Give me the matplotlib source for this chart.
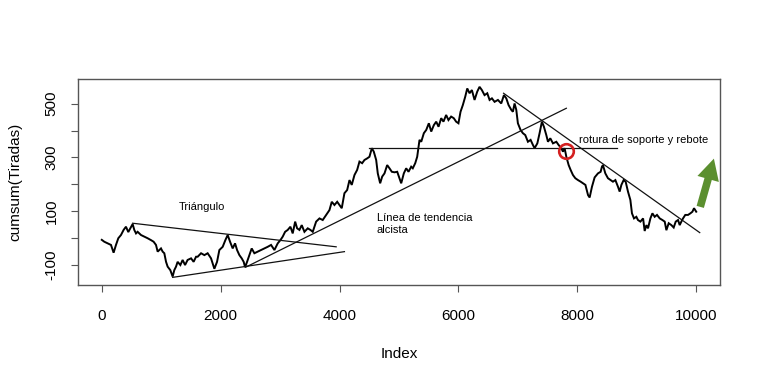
import matplotlib
matplotlib.use("Agg")
import matplotlib.pyplot as plt
from matplotlib.patches import FancyArrowPatch

plt.rcParams['font.family'] = ['Liberation Sans', 'DejaVu Sans']

# Random-walk series (index, cumsum value)
index_pts = [0, 42, 98, 155, 199, 239, 278, 323, 367, 407, 446, 480, 519, 547, 576, 603, 660, 715, 771, 828,
             872, 912, 940, 996, 1024, 1052, 1081, 1108, 1153, 1192, 1220, 1249, 1276, 1322, 1360, 1401, 1444, 1502, 1545, 1586,
             1613, 1670, 1726, 1781, 1838, 1894, 1939, 1978, 2034, 2079, 2118, 2158, 2202, 2242, 2276, 2315, 2354, 2387, 2411, 2444,
             2483, 2522, 2567, 2623, 2680, 2736, 2791, 2848, 2904, 2960, 3005, 3044, 3084, 3128, 3173, 3212, 3253, 3286, 3325, 3364,
             3409, 3465, 3510, 3549, 3606, 3662, 3717, 3774, 3830, 3869, 3914, 3960, 3998, 4037, 4082, 4128, 4167, 4205, 4251, 4296,
             4335, 4380, 4419, 4465, 4503, 4543, 4576, 4616, 4643, 4683, 4717, 4756, 4801, 4840, 4879, 4924, 4970, 5008, 5037, 5081,
             5121, 5160, 5205, 5232, 5273, 5306, 5345, 5374, 5418, 5458, 5502, 5542, 5586, 5626, 5665, 5710, 5748, 5793, 5832, 5877,
             5921, 5961, 6000, 6035, 6074, 6114, 6148, 6187, 6226, 6271, 6316, 6355, 6394, 6439, 6485, 6524, 6563, 6608, 6664, 6720,
             6765, 6805, 6843, 6889, 6916, 6944, 6973, 7000, 7045, 7084, 7124, 7169, 7214, 7253, 7281, 7327, 7365, 7404, 7438, 7478,
             7506, 7545, 7590, 7647, 7685, 7730, 7758, 7786, 7815, 7854, 7887, 7926, 7966, 8011, 8056, 8095, 8136, 8180, 8207, 8246,
             8291, 8347, 8392, 8414, 8431, 8471, 8515, 8561, 8599, 8640, 8684, 8712, 8741, 8779, 8813, 8852, 8892, 8919, 8953, 8993,
             9020, 9061, 9106, 9133, 9162, 9189, 9229, 9263, 9301, 9340, 9386, 9431, 9470, 9498, 9537, 9582, 9621, 9655, 9694, 9722,
             9750, 9778, 9816, 9862, 9902, 9936, 9963, 10000]
cumsum_vals = [-8, -15, -21, -27, -56, -27, -2, 10, 29, 41, 21, 35, 51, 29, 16, 22, 10, 4, -2, -9,
               -15, -27, -52, -40, -52, -58, -90, -108, -121, -145, -121, -108, -90, -102, -83, -102, -83, -77, -90, -71,
               -71, -58, -65, -58, -77, -116, -90, -46, -34, -9, 10, -15, -40, -21, -46, -65, -77, -90, -110, -90,
               -65, -40, -58, -52, -46, -40, -34, -27, -46, -21, -9, 4, 22, 29, 41, 16, 60, 35, 29, 47,
               22, 35, 29, 22, 60, 72, 66, 85, 103, 134, 122, 134, 122, 110, 166, 178, 215, 197, 234, 253,
               284, 278, 290, 296, 302, 334, 321, 290, 240, 203, 228, 240, 271, 259, 246, 244, 246, 222, 203, 240,
               259, 246, 265, 259, 278, 302, 365, 358, 390, 402, 427, 396, 420, 433, 414, 446, 433, 458, 439, 452,
               446, 433, 427, 470, 495, 526, 557, 539, 551, 514, 545, 563, 551, 532, 539, 514, 520, 507, 514, 501,
               532, 520, 495, 477, 470, 501, 477, 427, 402, 390, 383, 358, 365, 346, 334, 352, 390, 433, 414, 383,
               358, 371, 352, 358, 346, 334, 321, 334, 302, 271, 253, 234, 222, 215, 209, 203, 197, 159, 150, 190,
               225, 240, 246, 265, 271, 240, 222, 215, 209, 215, 190, 172, 197, 215, 209, 172, 141, 91, 72, 78,
               66, 60, 72, 25, 47, 35, 72, 91, 78, 85, 72, 66, 60, 28, 54, 47, 38, 60, 66, 47,
               60, 72, 85, 85, 91, 97, 110, 97]

# Hand-drawn annotation lines (x pair, y pair)
tri_upper_x, tri_upper_y = [519, 3943], [54, -34]
tri_lower_x, tri_lower_y = [1192, 4082], [-148, -52]
uptrend_x, uptrend_y = [2421, 7815], [-110, 483]
support_x, support_y = [4500, 8673], [334, 334]
downtrend_x, downtrend_y = [6759, 10059], [539, 19]
circle_xy = (7808, 323)
arrow_from, arrow_to = (10055, 105), (10310, 305)

x_ticks = [0, 2000, 4000, 6000, 8000, 10000]
y_ticks = [-100, 0, 100, 200, 300, 400, 500]
y_tick_labels = ['-100', '', '100', '', '300', '', '500']

fig = plt.figure(figsize=(7.6, 3.84), dpi=100)
ax = fig.add_axes([78 / 760, 1 - 285.3 / 384, 642 / 760, 206.6 / 384])

ax.plot(index_pts, cumsum_vals, color='black', lw=1.4, solid_joinstyle='miter')

for xs, ys in [(tri_upper_x, tri_upper_y), (tri_lower_x, tri_lower_y), (uptrend_x, uptrend_y),
               (support_x, support_y), (downtrend_x, downtrend_y)]:
    ax.plot(xs, ys, color='#111111', lw=0.9)

ax.plot([circle_xy[0]], [circle_xy[1]], marker='o', ms=10.5, mfc='none', mec='#d42020', mew=1.9)

arrow = FancyArrowPatch(arrow_from, arrow_to,
                        arrowstyle='simple,head_width=1.0,head_length=0.95,tail_width=0.34',
                        mutation_scale=16, color='#5b8f2f', lw=0, clip_on=False)
ax.add_patch(arrow)

ax.text(1293, 113, 'Triángulo', fontsize=8, ha='left', va='center')
ax.text(4626, 50, 'Línea de tendencia\nalcista', fontsize=8, ha='left', va='center', linespacing=1.25)
ax.text(8020, 364, 'rotura de soporte y rebote', fontsize=8, ha='left', va='center')

ax.set_xlim(-400, 10400)
ax.set_ylim(-177.6, 593.3)
ax.set_xticks(x_ticks)
ax.set_xticklabels([str(t) for t in x_ticks])
ax.set_yticks(y_ticks)
ax.set_yticklabels(y_tick_labels)
for lab in ax.get_yticklabels():
    lab.set_rotation(90)
    lab.set_va('center')

ax.tick_params(axis='both', direction='out', length=5, width=0.8, color='#555555', labelsize=11)
ax.tick_params(axis='x', pad=12)
ax.tick_params(axis='y', pad=9)
for sp in ax.spines.values():
    sp.set_color('#555555')
    sp.set_linewidth(1.0)

ax.set_xlabel('Index', fontsize=11, va='center')
ax.xaxis.set_label_coords(0.5, (285.3 - 354) / 206.6)
ax.set_ylabel('cumsum(Tiradas)', fontsize=11, va='center')
ax.yaxis.set_label_coords((15 - 78) / 642, 0.5)

fig.savefig('out.png', dpi=100)
